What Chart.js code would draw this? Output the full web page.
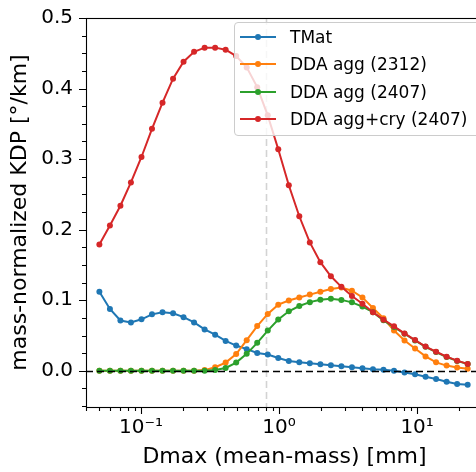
<!DOCTYPE html>
<html>
<head>
<meta charset="utf-8">
<script src="https://cdn.jsdelivr.net/npm/chart.js@4"></script>
<style>
  html, body { margin: 0; padding: 0; background: #fff; overflow: hidden; }
  #wrap { position: relative; width: 476px; height: 472px; overflow: hidden; }
  #legend {
    position: absolute; left: 234px; top: 22px; width: 260px; height: 114px;
    box-sizing: border-box; background: rgba(255,255,255,0.8);
    border: 1px solid #cccccc; border-radius: 4px;
    font-family: 'DejaVu Sans'; font-size: 17px; color: #000;
    padding-top: 0.5px;
  }
  .row { display: flex; align-items: center; height: 27.3px; white-space: nowrap; }
  .swatch { position: relative; width: 36px; height: 2px; margin-left: 5px; margin-right: 14px; }
  .swatch span { position: absolute; left: 15px; top: -2px; width: 6px; height: 6px; border-radius: 50%; }
</style>
</head>
<body>
<div id="wrap">
  <canvas id="kdpChart" width="490" height="472"></canvas>
  <div id="legend"></div>
</div>
<script>
// Dmax (mean-mass) in mm
const dmax = [0.05, 0.0596, 0.0710, 0.0846, 0.1009, 0.1202, 0.1433, 0.1708, 0.2035, 0.2425,
  0.2891, 0.3445, 0.4106, 0.4894, 0.5832, 0.6950, 0.8283, 0.9872, 1.177, 1.402,
  1.671, 1.992, 2.374, 2.829, 3.372, 4.018, 4.789, 5.707, 6.802, 8.106,
  9.661, 11.51, 13.72, 16.35, 19.49, 23.23];

// mass-normalized KDP
const tmat = [0.112, 0.0876, 0.0713, 0.0685, 0.073, 0.080, 0.083, 0.0815, 0.076, 0.0685,
  0.0587, 0.0512, 0.0424, 0.0358, 0.0307, 0.0252, 0.0231, 0.0182, 0.014, 0.012,
  0.0106, 0.0092, 0.0078, 0.0064, 0.005, 0.0036, 0.0022, 0.0014, 0.0, -0.0024,
  -0.0048, -0.0084, -0.0117, -0.0154, -0.0187, -0.0196];
const ddaAgg2312 = [0, 0, 0, 0, 0, 0, 0, 0, 0, 0,
  0.001, 0.005, 0.0116, 0.0238, 0.0434, 0.0634, 0.0806, 0.0937, 0.0997, 0.104,
  0.108, 0.112, 0.1158, 0.118, 0.1135, 0.104, 0.089, 0.0745, 0.057, 0.043,
  0.0315, 0.0204, 0.012, 0.0074, 0.0046, 0.0028];
const ddaAgg2407 = [0, 0, 0, 0, 0, 0, 0, 0, 0, 0,
  0, 0.001, 0.004, 0.0116, 0.024, 0.0396, 0.057, 0.0727, 0.0843, 0.0918,
  0.0973, 0.1008, 0.102, 0.1005, 0.097, 0.091, 0.083, 0.0715, 0.062, 0.0525,
  0.043, 0.034, 0.0265, 0.0195, 0.014, 0.0095];
const ddaAggCry2407 = [0.179, 0.206, 0.234, 0.267, 0.303, 0.343, 0.380, 0.414, 0.438, 0.452,
  0.458, 0.458, 0.455, 0.446, 0.430, 0.402, 0.362, 0.314, 0.263, 0.219,
  0.182, 0.154, 0.134, 0.119, 0.106, 0.095, 0.083, 0.0725, 0.063, 0.053,
  0.0436, 0.0344, 0.027, 0.020, 0.0144, 0.0098];

const seriesNames = ['TMat', 'DDA agg (2312)', 'DDA agg (2407)', 'DDA agg+cry (2407)'];
const seriesValues = [tmat, ddaAgg2312, ddaAgg2407, ddaAggCry2407];
const colors = ['#1f77b4', '#ff7f0e', '#2ca02c', '#d62728'];

// ticks
const xTickValues = [0.1, 1, 10];
const xTickLabels = ['10\u207B\u00B9', '10\u2070', '10\u00B9'];
const xMinorTicks = [0.04, 0.05, 0.06, 0.07, 0.08, 0.09, 0.2, 0.3, 0.4, 0.5, 0.6, 0.7, 0.8, 0.9,
  2, 3, 4, 5, 6, 7, 8, 9, 20, 30];
const yTickValues = [0, 0.1, 0.2, 0.3, 0.4, 0.5];
const yTickLabels = ['0.0', '0.1', '0.2', '0.3', '0.4', '0.5'];
const yMinorTicks = [-0.05, -0.025, 0.025, 0.05, 0.075, 0.125, 0.15, 0.175, 0.225, 0.25, 0.275,
  0.325, 0.35, 0.375, 0.425, 0.45, 0.475];

const refDmax = 0.8; // vertical reference line

// axes frame, ticks and the reference lines
const framePlugin = {
  id: 'frame',
  beforeDatasetsDraw(chart) {
    const ctx = chart.ctx, a = chart.chartArea;
    const px = Math.round(chart.scales.x.getPixelForValue(refDmax)) + 0.5;
    ctx.save();
    ctx.strokeStyle = '#d3d3d3';
    ctx.lineWidth = 1.6;
    ctx.setLineDash([7, 4]);
    ctx.beginPath();
    ctx.moveTo(px, a.top);
    ctx.lineTo(px, a.bottom);
    ctx.stroke();
    ctx.restore();
  },
  afterDatasetsDraw(chart) {
    const ctx = chart.ctx, a = chart.chartArea;
    const py = Math.round(chart.scales.y.getPixelForValue(0)) + 0.5;
    ctx.save();
    ctx.strokeStyle = '#000';
    ctx.lineWidth = 1.6;
    ctx.setLineDash([7, 4]);
    ctx.beginPath();
    ctx.moveTo(a.left, py);
    ctx.lineTo(a.right, py);
    ctx.stroke();
    ctx.restore();
  },
  afterDraw(chart) {
    const ctx = chart.ctx, a = chart.chartArea;
    const xs = chart.scales.x, ys = chart.scales.y;
    ctx.save();
    ctx.strokeStyle = '#000';
    ctx.lineWidth = 1.1;
    ctx.strokeRect(a.left + 0.5, a.top + 0.5, a.right - a.left, a.bottom - a.top);
    ctx.beginPath();
    xTickValues.forEach(v => { const p = Math.round(xs.getPixelForValue(v)) + 0.5; ctx.moveTo(p, a.bottom); ctx.lineTo(p, a.bottom + 7); });
    xMinorTicks.forEach(v => { const p = Math.round(xs.getPixelForValue(v)) + 0.5; ctx.moveTo(p, a.bottom); ctx.lineTo(p, a.bottom + 4); });
    yTickValues.forEach(v => { const p = Math.round(ys.getPixelForValue(v)) + 0.5; ctx.moveTo(a.left, p); ctx.lineTo(a.left - 7, p); });
    yMinorTicks.forEach(v => { const p = Math.round(ys.getPixelForValue(v)) + 0.5; ctx.moveTo(a.left, p); ctx.lineTo(a.left - 4, p); });
    ctx.stroke();
    ctx.restore();
  }
};

function createChart() {
  Chart.defaults.font.family = 'DejaVu Sans';
  Chart.defaults.color = '#000';

  // later series drawn on top, like the plotting order in the original
  const datasets = seriesValues.map((vals, i) => ({
    label: seriesNames[i],
    data: vals.map((v, j) => ({ x: dmax[j], y: v })),
    order: seriesValues.length - i,
    borderColor: colors[i],
    backgroundColor: colors[i],
    borderWidth: 2,
    pointRadius: 3,
    pointBorderWidth: 0,
    pointBackgroundColor: colors[i],
    tension: 0
  }));

  new Chart(document.getElementById('kdpChart'), {
    type: 'line',
    data: { datasets: datasets },
    options: {
      responsive: false,
      animation: false,
      layout: { padding: { top: 13, right: 7, left: 0, bottom: 0 } },
      plugins: { legend: { display: false }, tooltip: { enabled: false } },
      scales: {
        x: {
          type: 'logarithmic',
          min: 0.04,
          max: 30,
          afterBuildTicks: s => { s.ticks = xTickValues.map(v => ({ value: v })); },
          afterFit: s => { s.height = 65; },
          grid: { drawOnChartArea: false, color: 'transparent', tickLength: 7 },
          border: { display: false },
          ticks: {
            font: { size: 20 }, color: '#000', padding: 2, maxRotation: 0, autoSkip: false,
            callback: v => xTickLabels[xTickValues.indexOf(v)]
          },
          title: { display: true, text: 'Dmax (mean-mass) [mm]', font: { size: 22 }, color: '#000', padding: { top: 0, bottom: 2 } }
        },
        y: {
          type: 'linear',
          min: -0.0513,
          max: 0.5,
          afterBuildTicks: s => { s.ticks = yTickValues.map(v => ({ value: v })); },
          afterFit: s => { s.width = 86; },
          grid: { drawOnChartArea: false, color: 'transparent', tickLength: 7 },
          border: { display: false },
          ticks: {
            font: { size: 20 }, color: '#000', padding: 6,
            callback: v => yTickLabels[yTickValues.indexOf(v)]
          },
          title: { display: true, text: 'mass-normalized KDP [°/km]', font: { size: 22 }, color: '#000', padding: { top: 7, bottom: 0 } }
        }
      }
    },
    plugins: [framePlugin]
  });

  // legend box inside the axes
  const legend = document.getElementById('legend');
  seriesNames.forEach((name, i) => {
    const row = document.createElement('div');
    row.className = 'row';
    row.innerHTML = '<div class="swatch" style="background:' + colors[i] + '"><span style="background:' +
      colors[i] + '"></span></div>' + name;
    legend.appendChild(row);
  });
}

if (typeof Chart === 'undefined') {
  window.addEventListener('load', createChart);
} else {
  createChart();
}
</script>
</body>
</html>
